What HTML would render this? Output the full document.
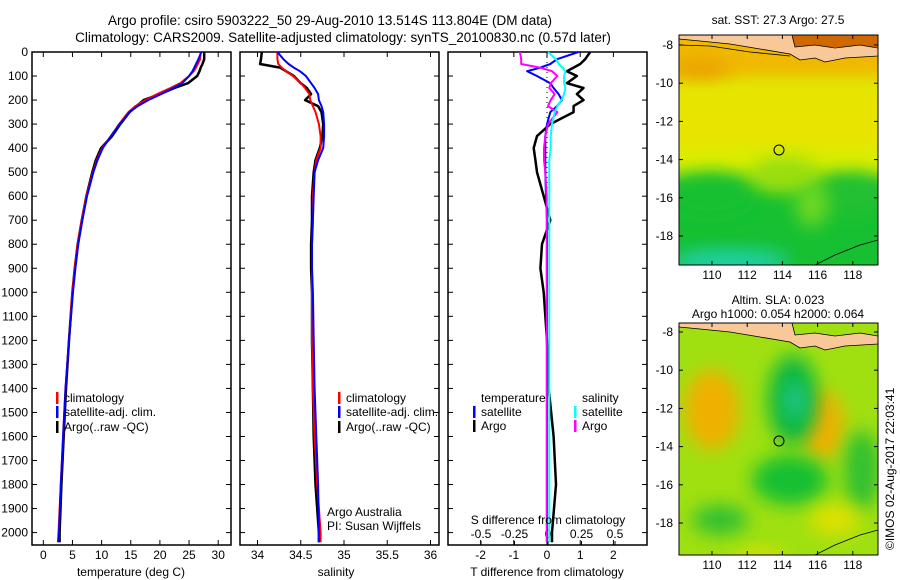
<!DOCTYPE html>
<html><head><meta charset="utf-8">
<style>
body{margin:0;background:#fff;}
svg{display:block;font-family:"Liberation Sans",sans-serif;}
text{font-size:12px;fill:#000;}
</style></head>
<body>
<svg id="c" width="900" height="580" viewBox="0 0 900 580">
<defs>
<filter id="bl" x="-50%" y="-50%" width="200%" height="200%"><feGaussianBlur stdDeviation="9"/></filter>
<clipPath id="m1c"><rect x="679" y="35" width="199" height="230"/></clipPath>
<clipPath id="m2c"><rect x="679" y="323" width="199" height="232"/></clipPath>
</defs>
<text x="330" y="25" text-anchor="middle" style="font-size:13.5px">Argo profile: csiro 5903222_50 29-Aug-2010 13.514S 113.804E (DM data)</text>
<text x="343" y="42" text-anchor="middle" style="font-size:13.5px">Climatology: CARS2009. Satellite-adjusted climatology: synTS_20100830.nc (0.57d later)</text>
<g id="p1"></g>
<g id="p2"></g>
<g id="p3"></g>

<g>
<text x="778" y="24" text-anchor="middle">sat. SST: 27.3 Argo: 27.5</text>
<g clip-path="url(#m1c)">
<rect x="679" y="35" width="199" height="230" fill="#d8ee00"/>
<rect x="660" y="20" width="240" height="60" fill="#f0b800" filter="url(#bl)"/>
<ellipse cx="700" cy="72" rx="30" ry="12" fill="#eaa000" filter="url(#bl)"/>
<rect x="660" y="85" width="240" height="65" fill="#e8e400" filter="url(#bl)"/>
<rect x="660" y="180" width="240" height="100" fill="#18c030" filter="url(#bl)"/>
<ellipse cx="710" cy="195" rx="45" ry="22" fill="#18c030" filter="url(#bl)"/>
<ellipse cx="850" cy="195" rx="40" ry="22" fill="#20c030" filter="url(#bl)"/>
<ellipse cx="785" cy="175" rx="35" ry="18" fill="#9ade10" filter="url(#bl)"/>
<ellipse cx="812" cy="205" rx="16" ry="22" fill="#70d820" filter="url(#bl)"/>
<ellipse cx="730" cy="262" rx="60" ry="12" fill="#20d0b0" filter="url(#bl)"/>
<path d="M793,30 L880,30 L880,47 L793,47 Z" fill="#d06800"/>
<path d="M679,35 L679,39 L700,41 L730,44 L760,49 L790,54 L800,60 L815,58 L825,62 L845,58 L878,56 L878,48 L860,45 L835,48 L815,45 L795,47 L792,35 Z" fill="#f8c898" stroke="#000" stroke-width="0.8"/>
<path d="M679,45 L710,46 L750,52 L790,56" fill="none" stroke="#000" stroke-width="0.8"/>
<path d="M815,265 L835,255 L860,245 L878,240" fill="none" stroke="#000" stroke-width="0.8"/>
</g>
<rect x="679" y="35" width="199" height="230" fill="none" stroke="#000"/>
<circle cx="779" cy="150" r="5" fill="none" stroke="#000"/>
</g>

<g>
<text x="778" y="304" text-anchor="middle">Altim. SLA: 0.023</text>
<text x="778" y="318" text-anchor="middle">Argo h1000: 0.054 h2000: 0.064</text>
<g clip-path="url(#m2c)">
<rect x="679" y="323" width="199" height="232" fill="#a0e010"/>
<ellipse cx="712" cy="410" rx="28" ry="40" fill="#f0b000" filter="url(#bl)"/>
<ellipse cx="822" cy="425" rx="22" ry="35" fill="#f0b000" filter="url(#bl)"/>
<ellipse cx="793" cy="400" rx="25" ry="45" fill="#10b840" filter="url(#bl)"/>
<ellipse cx="795" cy="400" rx="10" ry="18" fill="#20c890" filter="url(#bl)"/>
<ellipse cx="790" cy="480" rx="38" ry="25" fill="#18c030" filter="url(#bl)"/>
<ellipse cx="720" cy="520" rx="28" ry="15" fill="#30c030" filter="url(#bl)"/>
<ellipse cx="862" cy="470" rx="18" ry="40" fill="#30c030" filter="url(#bl)"/>
<ellipse cx="760" cy="560" rx="25" ry="10" fill="#e0e000" filter="url(#bl)"/>
<ellipse cx="835" cy="520" rx="25" ry="15" fill="#e0e000" filter="url(#bl)"/>
<path d="M679,323 L679,327 L700,329 L730,332 L760,337 L790,342 L800,348 L815,346 L825,350 L845,346 L878,344 L878,336 L860,333 L835,336 L815,333 L795,335 L792,323 Z" fill="#f8c898" stroke="#000" stroke-width="0.8"/>
<path d="M815,555 L835,545 L860,535 L878,530" fill="none" stroke="#000" stroke-width="0.8"/>
</g>
<rect x="679" y="323" width="199" height="232" fill="none" stroke="#000"/>
<circle cx="779" cy="441" r="5" fill="none" stroke="#000"/>
</g>
<text transform="translate(894,550) rotate(-90)">©IMOS 02-Aug-2017 22:03:41</text>
<g id="maxes"></g>
</svg>
<script>
// ---- data ----
const depths      = [0, 30, 50, 65, 80, 100, 130, 150, 175, 200, 225, 250, 300, 350, 400, 450, 500, 600, 700, 800, 900, 1000, 1200, 1400, 1600, 1800, 2000, 2040];
const tempClim    = [27.0,26.9,26.5,26.2,25.8,25.0,23.5,21.8,19.5,17.5,15.8,14.6,13.0,11.6,10.1,9.2,8.5,7.4,6.6,5.9,5.4,5.0,4.4,3.8,3.4,3.0,2.6,2.5];
const tempSat     = [27.1,26.6,26.2,25.9,25.6,25.0,23.8,22.3,20.2,18.0,16.2,14.8,13.1,11.6,10.2,9.3,8.6,7.5,6.7,6.0,5.5,5.1,4.4,3.8,3.4,3.0,2.7,2.6];
const tempArgo    = [27.6,27.6,27.3,27.0,26.8,26.4,24.8,22.5,20.0,17.2,16.0,14.8,13.2,11.8,9.9,9.0,8.4,7.4,6.6,5.9,5.4,5.0,4.4,3.9,3.5,3.1,2.8,2.8];
const salClim     = [34.23,34.23,34.24,34.28,34.33,34.41,34.50,34.55,34.60,34.61,34.64,34.67,34.71,34.73,34.73,34.68,34.66,34.64,34.64,34.63,34.63,34.63,34.63,34.64,34.66,34.69,34.73,34.73];
const salSat      = [34.23,34.30,34.36,34.42,34.49,34.56,34.62,34.66,34.70,34.71,34.74,34.76,34.77,34.77,34.76,34.70,34.66,34.65,34.64,34.63,34.63,34.64,34.65,34.66,34.68,34.70,34.71,34.71];
const salArgo     = [34.05,34.04,34.03,34.26,34.33,34.42,34.50,34.57,34.62,34.55,34.70,34.74,34.76,34.75,34.72,34.67,34.65,34.63,34.63,34.62,34.62,34.63,34.63,34.64,34.65,34.67,34.71,34.71];
const dTSat       = [0.95,0.3,0.1,-0.2,-0.6,-0.3,0.1,0.2,0.35,0.45,0.3,0.1,0.0,-0.05,-0.05,-0.05,-0.05,-0.03,0.0,0.0,0.0,0.0,0.0,0.0,0.0,0.0,0.0,0.0];
const dTArgo      = [1.3,1.15,1.0,0.8,0.6,0.9,0.6,1.1,0.9,1.1,0.8,0.8,0.1,-0.3,-0.4,-0.35,-0.3,-0.1,0.1,-0.15,-0.2,-0.1,0.0,0.05,0.2,0.27,0.15,0.15];
const dSSat       = [0.0,0.06,0.08,0.11,0.13,0.12,0.12,0.13,0.12,0.10,0.07,0.05,0.03,0.02,0.02,0.01,0.01,0.01,0.01,0.01,0.01,0.01,0.01,0.01,0.01,0.01,0.01,0.01];
const dSArgo      = [-0.21,-0.2,-0.2,-0.06,0.03,0.07,0.02,0.01,0.05,0.02,0.0,0.07,0.0,-0.02,-0.03,-0.03,-0.02,-0.01,-0.01,-0.01,-0.01,-0.01,-0.01,-0.01,-0.01,-0.01,-0.01,-0.01];
const depthTicks  = [0,100,200,300,400,500,600,700,800,900,1000,1100,1200,1300,1400,1500,1600,1700,1800,1900,2000];
const tempTicks   = [0,5,10,15,20,25,30];
const salTicks    = [34,34.5,35,35.5,36];
const dTTicks     = [-2,-1,0,1,2];
const dSTicks     = [-0.5,-0.25,0,0.25,0.5];
const latTicks    = [-8,-10,-12,-14,-16,-18];
const lonTicks    = [110,112,114,116,118];

// ---- axes ----
const TOP=52, BOT=545;
const yD = d => TOP + d*0.2403;
const xT = t => 43.3 + t*5.83;
const xS = s => 257.5 + (s-34)*86.5;
const xdT = v => 547 + v*33.2;
const xdS = v => 548 + v*134;
const NS='http://www.w3.org/2000/svg';
const svg=document.getElementById('c');
function mk(tag, attrs, parent){const e=document.createElementNS(NS,tag);for(const k in attrs)e.setAttribute(k,attrs[k]);(parent||svg).appendChild(e);return e;}
function txt(x,y,s,anchor,parent){const t=mk('text',{x:x,y:y,'text-anchor':anchor||'start'},parent);t.textContent=s;return t;}

function frame(g,x0,x1,name){
  const r=mk('rect',{x:x0,y:TOP,width:x1-x0,height:BOT-TOP,fill:'none',stroke:'#000','stroke-width':1.5},g);
  
  
}
function yticks(g,x0,x1,labels){
  depthTicks.forEach(d=>{
    const y=yD(d);
    mk('line',{x1:x0,x2:x0+5,y1:y,y2:y,stroke:'#000'},g);
    mk('line',{x1:x1-5,x2:x1,y1:y,y2:y,stroke:'#000'},g);
    if(labels){const t=txt(28,y+4,String(d),'end',g);
      
      }
  });
}
function xticks(g,ticks,fx,y,labelY){
  ticks.forEach(v=>{
    const x=fx(v);
    mk('line',{x1:x,x2:x,y1:BOT,y2:BOT-5,stroke:'#000'},g);
    mk('line',{x1:x,x2:x,y1:TOP,y2:TOP+5,stroke:'#000'},g);
    const t=txt(x,labelY,String(v),'middle',g);
    
    
  });
}
function line(g,xs,fx,color,w,name){
  const pts=depths.map((d,i)=>fx(xs[i]).toFixed(1)+','+yD(d).toFixed(1)).join(' ');
  const p=mk('polyline',{points:pts,fill:'none',stroke:color,'stroke-width':w,'stroke-linejoin':'round'},g);
  
  
}
function legend(g,x,y,color,label){
  mk('rect',{x:x,y:y-10,width:2.5,height:12,fill:color},g);
  const t=txt(x+8,y,label,'start',g);
  
  
}

// panel 1
const g1=document.getElementById('p1');
frame(g1,32,231,'temperature-panel');
yticks(g1,32,231,true);
xticks(g1,tempTicks,xT,BOT,559);
line(g1,tempArgo,xT,'#000',2.5,'temp-argo-line');
line(g1,tempClim,xT,'#f00',2,'temp-climatology-line');
line(g1,tempSat,xT,'#00f',2,'temp-satellite-line');
legend(g1,56,402,'#f00','climatology');
legend(g1,56,416,'#00f','satellite-adj. clim.');
legend(g1,56,431,'#000','Argo(..raw -QC)');
let t=txt(131,576,'temperature (deg C)','middle',g1);



// panel 2
const g2=document.getElementById('p2');
frame(g2,240,439,'salinity-panel');
yticks(g2,240,439,false);
xticks(g2,salTicks,xS,BOT,559);
line(g2,salArgo,xS,'#000',2.5,'sal-argo-line');
line(g2,salClim,xS,'#f00',2,'sal-climatology-line');
line(g2,salSat,xS,'#00f',2,'sal-satellite-line');
legend(g2,338,402,'#f00','climatology');
legend(g2,338,416,'#00f','satellite-adj. clim.');
legend(g2,338,431,'#000','Argo(..raw -QC)');
t=txt(336,576,'salinity','middle',g2);


t=txt(327,516,'Argo Australia','start',g2);


t=txt(327,530,'PI: Susan Wijffels','start',g2);



// panel 3
const g3=document.getElementById('p3');
frame(g3,448,647,'difference-panel');
yticks(g3,448,647,false);
xticks(g3,dTTicks,xdT,BOT,559);
dSTicks.forEach(v=>{const x=xdS(v);
  const tt=txt(x,538,String(v),'middle',g3);
  
  
  mk('line',{x1:x,x2:x,y1:BOT,y2:BOT-4,stroke:'#000'},g3);});
mk('line',{x1:547,x2:547,y1:TOP,y2:BOT,stroke:'#000','stroke-dasharray':'1,4'},g3);
line(g3,dTArgo,xdT,'#000',2.5,'dT-argo-line');
line(g3,dTSat,xdT,'#00f',2,'dT-satellite-line');
line(g3,dSArgo,xdS,'#f0f',2,'dS-argo-line');
line(g3,dSSat,xdS,'#0ff',2,'dS-satellite-line');
t=txt(481,402,'temperature','start',g3);


t=txt(582,402,'salinity','start',g3);


legend(g3,473,416,'#00f','satellite');
legend(g3,473,430,'#000','Argo');
legend(g3,574,416,'#0ff','satellite');
legend(g3,574,430,'#f0f','Argo');
t=txt(548,524,'S difference from climatology','middle',g3);


t=txt(547,576,'T difference from climatology','middle',g3);



// map axes
const gm=document.getElementById('maxes');
[[35,265,45,279],[323,555,332,569]].forEach(([top,bot,lat8,ly])=>{
  latTicks.forEach(v=>{const y=lat8+(-8-v)*19.1;
    mk('line',{x1:679,x2:683,y1:y,y2:y,stroke:'#000'},gm);
    mk('line',{x1:874,x2:878,y1:y,y2:y,stroke:'#000'},gm);
    const tt=txt(673,y+4,String(v),'end',gm);
    
    });
  lonTicks.forEach(v=>{const x=712+(v-110)*17.6;
    mk('line',{x1:x,x2:x,y1:bot,y2:bot-4,stroke:'#000'},gm);
    mk('line',{x1:x,x2:x,y1:top,y2:top+4,stroke:'#000'},gm);
    const tt=txt(x,ly,String(v),'middle',gm);
    
    });
});
</script>
</body></html>
